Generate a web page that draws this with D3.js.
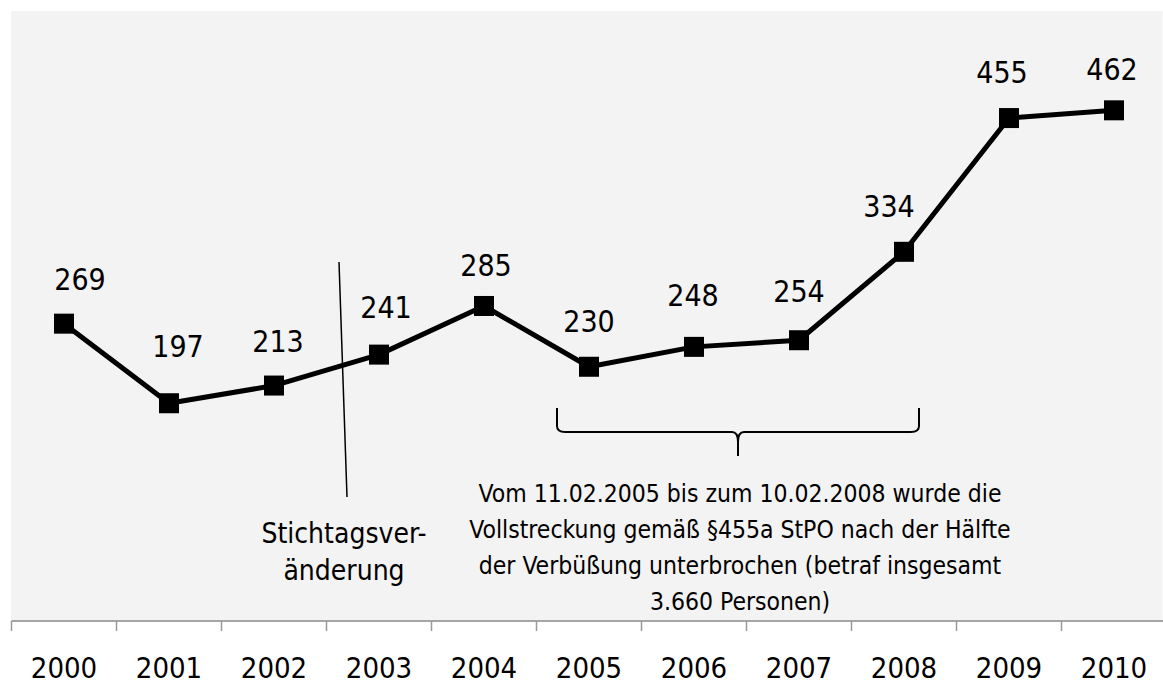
<!DOCTYPE html>
<html lang="de">
  <head>
    <meta charset="UTF-8" />
    <title>Vollstreckung 2000-2010</title>
    <script src="https://cdn.jsdelivr.net/npm/d3@7"></script>
    <style>
      body { margin: 0; background: #fff; }
      svg { display: block; font-family: "DejaVu Sans Condensed", "DejaVu Sans", sans-serif; }
    </style>
  </head>
  <body>
    <svg></svg>
    <script>
      const width = 1163;
      const height = 686;

      const years = ["2000", "2001", "2002", "2003", "2004", "2005", "2006", "2007", "2008", "2009", "2010"];
      const values = [269, 197, 213, 241, 285, 230, 248, 254, 334, 455, 462];
      const stichtagLines = ["Stichtagsver-", "änderung"];
      const noteLines = [
        "Vom 11.02.2005 bis zum 10.02.2008 wurde die",
        "Vollstreckung gemäß §455a StPO nach der Hälfte",
        "der Verbüßung unterbrochen (betraf insgesamt",
        "3.660 Personen)"
      ];
      // hand-placed data labels in the original (offset from each marker)
      const labelDx = [16, 9, 4, 7, 2, 0, -1, 0, -15, -7, -2];
      const labelDy = [-34, -46, -34, -37, -30, -35, -41, -38, -35, -35, -30];

      const svg = d3.select("svg").attr("width", width).attr("height", height);

      const plotLeft = 11.5, plotTop = 11, axisY = 621;

      const x = d3.scaleBand().domain(years).range([plotLeft, plotLeft + 105 * years.length]);
      const y = d3.scaleLinear().domain([0, 560]).range([axisY, 2]);
      const cx = d => x(d) + x.bandwidth() / 2;

      // plot area background
      svg.append("rect")
        .attr("x", plotLeft - 0.5).attr("y", plotTop)
        .attr("width", width - plotLeft).attr("height", axisY - plotTop)
        .attr("fill", "#f3f3f3");

      // axis
      const axis = svg.append("g");
      axis.append("line")
        .attr("x1", plotLeft).attr("x2", width)
        .attr("y1", axisY).attr("y2", axisY)
        .attr("stroke", "#888").attr("stroke-width", 1.5);
      axis.selectAll(".tick")
        .data(years)
        .join("line")
        .attr("x1", d => x(d)).attr("x2", d => x(d))
        .attr("y1", axisY).attr("y2", axisY + 10)
        .attr("stroke", "#999").attr("stroke-width", 1.5);
      axis.selectAll(".yl")
        .data(years)
        .join("text")
        .attr("x", d => cx(d))
        .attr("y", 678)
        .attr("text-anchor", "middle")
        .attr("font-size", 29)
        .attr("fill", "#000")
        .text(d => d);

      const data = years.map((yr, i) => ({ year: yr, value: values[i], dx: labelDx[i], dy: labelDy[i] }));

      const line = d3.line()
        .x(d => cx(d.year))
        .y(d => y(d.value));

      svg.append("path")
        .attr("d", line(data))
        .attr("fill", "none")
        .attr("stroke", "#000")
        .attr("stroke-width", 5)
        .attr("stroke-linejoin", "round");

      svg.selectAll(".marker")
        .data(data)
        .join("rect")
        .attr("x", d => cx(d.year) - 10)
        .attr("y", d => y(d.value) - 10)
        .attr("width", 20).attr("height", 20)
        .attr("fill", "#000");

      svg.selectAll(".val")
        .data(data)
        .join("text")
        .attr("x", d => cx(d.year) + d.dx)
        .attr("y", d => y(d.value) + d.dy)
        .attr("text-anchor", "middle")
        .attr("font-size", 30)
        .text(d => d.value);

      // Stichtag marker
      svg.append("line")
        .attr("x1", 339).attr("y1", 262)
        .attr("x2", 347).attr("y2", 497)
        .attr("stroke", "#000").attr("stroke-width", 1.5);
      svg.append("text")
        .attr("text-anchor", "middle")
        .attr("font-size", 28)
        .selectAll("tspan")
        .data(stichtagLines)
        .join("tspan")
        .attr("x", 344)
        .attr("y", (d, i) => 543 + i * 37)
        .text(d => d);

      // brace under 2005-2008
      const bx1 = 557, bx2 = 919, bm = (bx1 + bx2) / 2, bt = 408, bh = 432;
      svg.append("path")
        .attr("d", `M${bx1},${bt} L${bx1},${bh - 6} Q${bx1},${bh} ${bx1 + 8},${bh}
                    L${bm - 6},${bh} Q${bm},${bh} ${bm},${bh + 10} L${bm},${bh + 24}
                    M${bm},${bh + 10} Q${bm},${bh} ${bm + 6},${bh}
                    L${bx2 - 8},${bh} Q${bx2},${bh} ${bx2},${bh - 6} L${bx2},${bt}`)
        .attr("fill", "none")
        .attr("stroke", "#000")
        .attr("stroke-width", 2);

      svg.append("text")
        .attr("text-anchor", "middle")
        .attr("font-size", 24.5)
        .selectAll("tspan")
        .data(noteLines)
        .join("tspan")
        .attr("x", 740)
        .attr("y", (d, i) => 502 + i * 36)
        .text(d => d);
    </script>
  </body>
</html>
